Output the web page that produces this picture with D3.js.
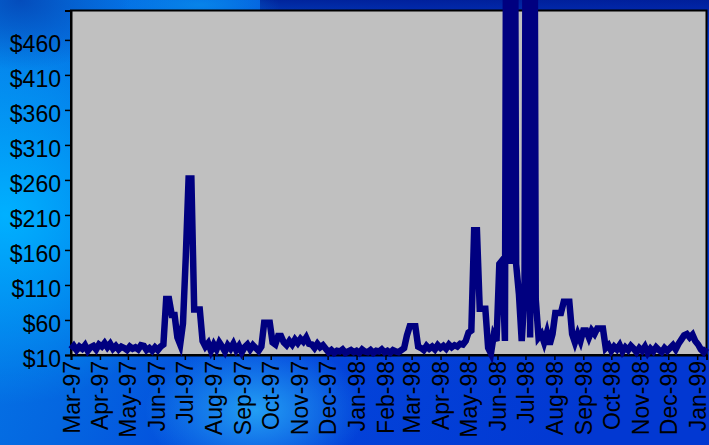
<!DOCTYPE html>
<html><head><meta charset="utf-8">
<script src="https://cdn.jsdelivr.net/npm/d3@7"></script>
<style>html,body{margin:0;padding:0;overflow:hidden;background:#0048e0}</style>
</head><body>
<svg id="chart" width="709" height="445"></svg>
<script>
// ---------- DATA ----------
const startDate = "1997-03-01";   // first observation
const endDate = "1999-01-11";     // last observation / axis end
const stepDays = 3;               // sampling interval of the series (days)
const prices = [
  18,23,17,22,19,24,16,21,23,18,25,22,27,21,26,19,23,18,22,20,17,22,19,21,18,24,23,17,20,16,21,17,22,
  25,90,90,67,67,35,25,55,150,262,262,75,75,75,30,22,
  27,16,25,18,28,22,15,24,19,26,17,23,14,21,25,18,24,20,16,
  22,56,56,56,28,
  25,37,37,28,24,
  30,25,32,27,33,29,35,26,
  25,20,26,21,24,19,
  14,17,13,16,15,18,13,15,17,14,16,13,18,15,14,17,13,16,15,18,14,16,13,17,15,14,17,
  20,38,51,51,51,22,
  20,17,23,19,22,18,24,20,23,19,25,21,24,22,26,
  25,30,42,45,188,188,76,76,76,
  20,12,38,30,140,145,30,1500,140,1500,140,97,30,97,1500,35,1500,90,35,
  40,28,42,25,40,70,70,70,86,86,86,40,28,40,30,45,45,35,45,40,48,48,48,20,24,
  16,22,18,24,15,21,17,23,19,14,20,16,22,13,19,15,21,17,14,20,16,
  20,24,18,26,32,38,40,35,39,30,25,18,14,20
];
const monthLabels = ["Mar-97","Apr-97","May-97","Jun-97","Jul-97","Aug-97","Sep-97","Oct-97",
  "Nov-97","Dec-97","Jan-98","Feb-98","Mar-98","Apr-98","May-98","Jun-98","Jul-98","Aug-98",
  "Sep-98","Oct-98","Nov-98","Dec-98","Jan-99"];
const yTickValues = [10,60,110,160,210,260,310,360,410,460];
const yDomain = [10, 502];

// ---------- LAYOUT ----------
const W = 709, H = 445;
const plot = {left: 71, right: 706.5, top: 10.5, bottom: 355};
const svg = d3.select("#chart");
const defs = svg.append("defs");

// background gradients
const lin = defs.append("linearGradient").attr("id","bgLin")
  .attr("x1",0).attr("y1",0).attr("x2",1).attr("y2",0.25);
[[0,"#0580ea"],[0.3,"#0466e0"],[0.55,"#0346dc"],[1,"#0238d2"]]
  .forEach(([o,c])=>lin.append("stop").attr("offset",o).attr("stop-color",c));
function radial(id, color, op){
  const r = defs.append("radialGradient").attr("id",id);
  r.append("stop").attr("offset",0).attr("stop-color",color).attr("stop-opacity",op);
  r.append("stop").attr("offset",1).attr("stop-color",color).attr("stop-opacity",0);
}
radial("glowL","#00b0ff",1);
radial("glowB","#30c4ff",0.7);
radial("glowT","#0a9af0",0.55);
radial("darkTL","#0440b0",0.8);
const topDark = defs.append("linearGradient").attr("id","topDark")
  .attr("x1",0).attr("y1",0).attr("x2",0).attr("y2",1);
topDark.append("stop").attr("offset",0).attr("stop-color","#001a90").attr("stop-opacity",0.85);
topDark.append("stop").attr("offset",1).attr("stop-color","#001a90").attr("stop-opacity",0);

svg.append("rect").attr("width",W).attr("height",H).attr("fill","url(#bgLin)");
svg.append("ellipse").attr("cx",5).attr("cy",215).attr("rx",200).attr("ry",190).attr("fill","url(#glowL)");
svg.append("ellipse").attr("cx",20).attr("cy",0).attr("rx",110).attr("ry",70).attr("fill","url(#darkTL)");
svg.append("ellipse").attr("cx",255).attr("cy",410).attr("rx",110).attr("ry",70).attr("fill","url(#glowB)");
svg.append("rect").attr("x",260).attr("y",0).attr("width",W-260).attr("height",40).attr("fill","url(#topDark)");
svg.append("ellipse").attr("cx",200).attr("cy",5).attr("rx",80).attr("ry",20).attr("fill","url(#glowT)");

// ---------- SCALES ----------
const parse = d3.timeParse("%Y-%m-%d");
const parseMonth = d3.timeParse("%b-%y");
const start = parse(startDate);
const data = prices.map((v,i)=>({date: d3.timeDay.offset(start, i*stepDays), value: v}));
const x = d3.scaleTime().domain([start, parse(endDate)]).range([plot.left, plot.right]);
const y = d3.scaleLinear().domain(yDomain).range([plot.bottom, plot.top]);

// plot area
svg.append("rect").attr("x",plot.left).attr("y",plot.top)
  .attr("width",plot.right-plot.left).attr("height",plot.bottom-plot.top)
  .attr("fill","#c0c0c0").attr("stroke","#000").attr("stroke-width",2);

// ---------- AXES ----------
const font = "'Liberation Sans', Arial, sans-serif";
const yAxis = svg.append("g").attr("transform",`translate(${plot.left},0)`)
  .call(d3.axisLeft(y).tickValues(yTickValues).tickSize(6).tickPadding(4).tickFormat(d=>"$"+d));
yAxis.select(".domain").attr("stroke","#000").attr("stroke-width",2);
yAxis.selectAll(".tick line").attr("stroke","#000").attr("stroke-width",1.5);
yAxis.selectAll(".tick text").attr("fill","#000").attr("font-family",font)
  .attr("font-size",23).attr("dy","0.52em");

const monthDates = monthLabels.map(parseMonth);
const xAxis = svg.append("g").attr("transform",`translate(0,${plot.bottom})`)
  .call(d3.axisBottom(x).tickValues(monthDates).tickSize(5).tickFormat((d,i)=>monthLabels[i]));
xAxis.select(".domain").attr("stroke","#000").attr("stroke-width",2);
xAxis.selectAll(".tick line").attr("stroke","#000").attr("stroke-width",1.5);
xAxis.selectAll(".tick text").attr("fill","#000").attr("font-family",font).attr("font-size",23)
  .attr("text-anchor","end").attr("y",0).attr("dy",0)
  .attr("transform","translate(8,6) rotate(-90)");

// ---------- LINE ----------
const line = d3.line().x(d=>x(d.date)).y(d=>y(d.value));
svg.append("path").datum(data).attr("d",line)
  .attr("fill","none").attr("stroke","#000080").attr("stroke-width",6.5)
  .attr("stroke-linejoin","miter").attr("stroke-miterlimit",4);
</script>
</body></html>
